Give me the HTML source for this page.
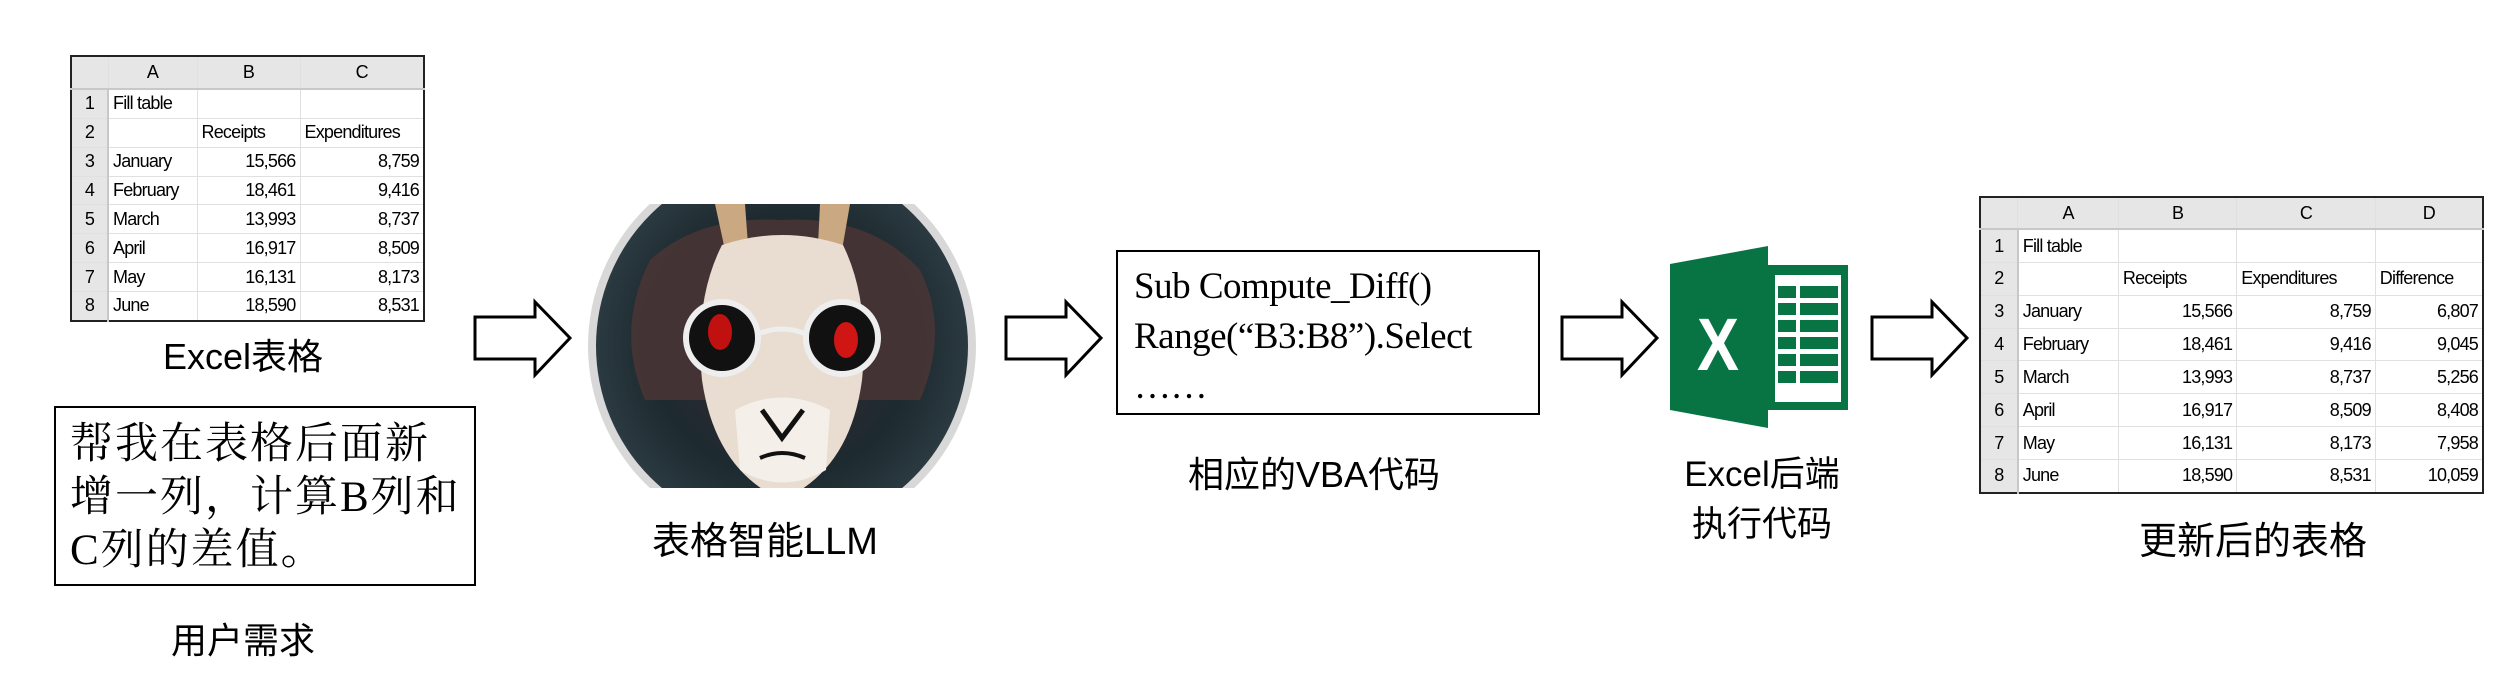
<!DOCTYPE html>
<html><head><meta charset="utf-8"><style>
body{margin:0;width:2518px;height:674px;background:#fff;position:relative;overflow:hidden;font-family:"Liberation Sans","Noto Sans CJK SC",sans-serif}
.abs{position:absolute}
.lbl{position:absolute;font-size:36px;color:#000;text-align:center;white-space:nowrap;transform:translateX(-50%)}
table.xl{position:absolute;border-collapse:collapse;border:2px solid #222;font-size:18px;font-family:"Liberation Sans",sans-serif;background:#fff}
table.xl td{border:1px solid #e0e0e0;padding:0 4px;white-space:nowrap;overflow:hidden;letter-spacing:-0.8px}
table.xl tr.h td{background:#e6e6e6;text-align:center;border-bottom:2px solid #c8c8c8}
table.xl td.n{background:#e6e6e6;text-align:center;border-right:2px solid #c8c8c8}
table.xl td.r{text-align:right}
.box{position:absolute;border:2.5px solid #000;background:#fff;box-sizing:border-box}
</style></head><body>

<table class="xl" style="left:70px;top:55px;width:355px;height:267px">
<colgroup><col style="width:37px"><col style="width:89px"><col style="width:103px"><col style="width:124px"></colgroup>
<tr class="h" style="height:33px"><td></td><td>A</td><td>B</td><td>C</td></tr>
<tr><td class="n">1</td><td>Fill table</td><td></td><td></td></tr>
<tr><td class="n">2</td><td></td><td>Receipts</td><td>Expenditures</td></tr>
<tr><td class="n">3</td><td>January</td><td class="r">15,566</td><td class="r">8,759</td></tr>
<tr><td class="n">4</td><td>February</td><td class="r">18,461</td><td class="r">9,416</td></tr>
<tr><td class="n">5</td><td>March</td><td class="r">13,993</td><td class="r">8,737</td></tr>
<tr><td class="n">6</td><td>April</td><td class="r">16,917</td><td class="r">8,509</td></tr>
<tr><td class="n">7</td><td>May</td><td class="r">16,131</td><td class="r">8,173</td></tr>
<tr><td class="n">8</td><td>June</td><td class="r">18,590</td><td class="r">8,531</td></tr>
</table>
<div class="lbl" style="left:243px;top:328px">Excel表格</div>

<div class="box" style="left:54px;top:406px;width:422px;height:180px"></div>
<div class="abs" style="left:70px;top:418px;font-family:'Liberation Serif','Noto Serif CJK SC',serif;font-size:43px;line-height:53px;letter-spacing:2px">帮我在表格后面新<br>增一列，计算B列和<br>C列的差值。</div>
<div class="lbl" style="left:243px;top:612px">用户需求</div>

<svg class="abs" style="left:0;top:0" width="2518" height="674">
<g fill="#fff" stroke="#000" stroke-width="3">
<path d="M475,317 H535 V302 L570,338 L535,375 V359 H475 Z"/>
<path d="M1006,317 H1066 V302 L1101,338 L1066,375 V359 H1006 Z"/>
<path d="M1562,317 H1622 V302 L1657,338 L1622,375 V359 H1562 Z"/>
<path d="M1872,317 H1932 V302 L1967,338 L1932,375 V359 H1872 Z"/>
</g>
<defs><clipPath id="cc"><rect x="580" y="204" width="400" height="284"/></clipPath>
<radialGradient id="bg" cx="50%" cy="50%" r="50%"><stop offset="0" stop-color="#3a2a30"/><stop offset="0.7" stop-color="#1d2a30"/><stop offset="1" stop-color="#2a3a40"/></radialGradient></defs>
<g clip-path="url(#cc)">
<circle cx="782" cy="346" r="194" fill="#d8d8d8"/>
<circle cx="782" cy="346" r="186" fill="url(#bg)"/>
<path d="M650,260 Q700,215 782,220 Q870,215 920,270 Q950,330 920,400 L645,400 Q615,330 650,260Z" fill="#4a3535" opacity="0.85"/>
<path d="M715,204 L725,250 L748,245 L745,204Z M820,204 L818,245 L842,250 L850,204Z" fill="#c9a882"/>
<path d="M722,245 Q782,225 843,245 Q870,300 862,380 Q850,470 782,500 Q715,470 702,380 Q694,300 722,245Z" fill="#e8ddd0"/>
<path d="M735,410 Q782,385 830,410 L826,470 Q782,495 740,470Z" fill="#f4efe8"/>
<path d="M762,410 L782,438 L803,410" fill="none" stroke="#111" stroke-width="5"/>
<path d="M760,458 Q782,448 805,458" fill="none" stroke="#111" stroke-width="4"/>
<circle cx="722" cy="338" r="36" fill="#111" stroke="#eee" stroke-width="6"/>
<circle cx="842" cy="338" r="36" fill="#111" stroke="#eee" stroke-width="6"/>
<path d="M758,334 Q782,324 806,334" fill="none" stroke="#eee" stroke-width="5"/>
<ellipse cx="720" cy="332" rx="12" ry="18" fill="#c01010"/>
<ellipse cx="846" cy="340" rx="12" ry="18" fill="#d01515"/>
</g>
<g>
<path d="M1670,264 L1768,246 L1768,428 L1670,410 Z" fill="#087443"/>
<rect x="1768" y="265" width="80" height="145" fill="#087443"/>
<g fill="#fff"><rect x="1775" y="275" width="66" height="127"/></g>
<g fill="#087443">
<rect x="1778" y="286" width="18" height="12"/><rect x="1800" y="286" width="38" height="12"/>
<rect x="1778" y="303" width="18" height="12"/><rect x="1800" y="303" width="38" height="12"/>
<rect x="1778" y="320" width="18" height="12"/><rect x="1800" y="320" width="38" height="12"/>
<rect x="1778" y="337" width="18" height="12"/><rect x="1800" y="337" width="38" height="12"/>
<rect x="1778" y="354" width="18" height="12"/><rect x="1800" y="354" width="38" height="12"/>
<rect x="1778" y="371" width="18" height="12"/><rect x="1800" y="371" width="38" height="12"/>
</g>
<text x="1697" y="370" font-family="Liberation Sans" font-weight="bold" font-size="74" fill="#fff" transform="translate(1697,370) scale(0.85,1) translate(-1697,-370)">X</text>
</g>
</svg>
<div class="lbl" style="left:765px;top:510px;font-size:38px">表格智能LLM</div>

<div class="box" style="left:1116px;top:250px;width:424px;height:165px"></div>
<div class="abs" style="left:1134px;top:262px;font-family:'Liberation Serif',serif;font-size:37px;line-height:50px;letter-spacing:-0.5px">Sub Compute_Diff()<br>Range(“B3:B8”).Select<br>……</div>
<div class="lbl" style="left:1314px;top:446px">相应的VBA代码</div>

<div class="lbl" style="left:1762px;top:450px;line-height:50px;font-size:35px">Excel后端<br>执行代码</div>

<table class="xl" style="left:1979px;top:196px;width:505px;height:298px">
<colgroup><col style="width:38px"><col style="width:101px"><col style="width:119px"><col style="width:139px"><col style="width:108px"></colgroup>
<tr class="h" style="height:32px"><td></td><td>A</td><td>B</td><td>C</td><td>D</td></tr>
<tr><td class="n">1</td><td>Fill table</td><td></td><td></td><td></td></tr>
<tr><td class="n">2</td><td></td><td>Receipts</td><td>Expenditures</td><td>Difference</td></tr>
<tr><td class="n">3</td><td>January</td><td class="r">15,566</td><td class="r">8,759</td><td class="r">6,807</td></tr>
<tr><td class="n">4</td><td>February</td><td class="r">18,461</td><td class="r">9,416</td><td class="r">9,045</td></tr>
<tr><td class="n">5</td><td>March</td><td class="r">13,993</td><td class="r">8,737</td><td class="r">5,256</td></tr>
<tr><td class="n">6</td><td>April</td><td class="r">16,917</td><td class="r">8,509</td><td class="r">8,408</td></tr>
<tr><td class="n">7</td><td>May</td><td class="r">16,131</td><td class="r">8,173</td><td class="r">7,958</td></tr>
<tr><td class="n">8</td><td>June</td><td class="r">18,590</td><td class="r">8,531</td><td class="r">10,059</td></tr>
</table>
<div class="lbl" style="left:2253px;top:510px;font-size:38px">更新后的表格</div>
</body></html>
